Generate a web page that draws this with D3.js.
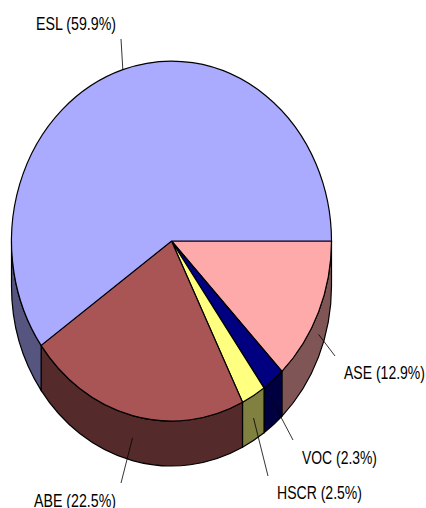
<!DOCTYPE html>
<html lang="en">
<head>
  <meta charset="UTF-8">
  <title>Pie chart</title>
  <script src="https://d3js.org/d3.v7.min.js"></script>
  <style>
    html, body { margin: 0; padding: 0; background: #fff; }
    svg { display: block; }
    text { font-family: "Liberation Sans Narrow", "Liberation Sans", Arial, sans-serif; font-size: 18px; fill: #000; }
  </style>
</head>
<body>
  <svg id="chart"></svg>
  <script>
    const categories = ["ASE", "VOC", "HSCR", "ABE", "ESL"];
    const shares = [12.9, 2.3, 2.5, 22.5, 59.9];

    const topColors = ["#ffaaaa", "#000080", "#ffff80", "#aa5555", "#aaaaff"];
    const sideColors = ["#805555", "#000040", "#808040", "#552a2a", "#555580"];

    // Where each leader line ends and its label sits: [lineX, lineY, textX, textY, textWidth]
    const labelPlaces = {
      ASE: [335, 356, 344, 379, 81],
      VOC: [293, 440, 302, 464, 75],
      HSCR: [268, 476, 277, 499, 85],
      ABE: [121, 483, 34, 507, 82],
      ESL: [121, 39, 36, 30, 80]
    };

    const width = 426, height = 508;
    const cx = 171.5, cy = 241, rx = 160, ry = 180, depth = 45;

    const svg = d3.select("#chart").attr("width", width).attr("height", height);

    // d3.pie angles: 0 is 12 o'clock, so start at 3 o'clock and go clockwise
    const slices = d3.pie().sort(null)
      .startAngle(Math.PI / 2)
      .endAngle(Math.PI / 2 + 2 * Math.PI)(shares);

    const px = a => cx + rx * Math.sin(a);
    const py = a => cy - ry * Math.cos(a);

    // Side walls, only the front half of the rim is visible
    const wallPath = d => {
      const a0 = Math.max(d.startAngle, Math.PI / 2);
      const a1 = Math.min(d.endAngle, 3 * Math.PI / 2);
      return `M${px(a0)},${py(a0)}A${rx},${ry} 0 0 1 ${px(a1)},${py(a1)}` +
             `L${px(a1)},${py(a1) + depth}A${rx},${ry} 0 0 0 ${px(a0)},${py(a0) + depth}Z`;
    };

    svg.append("g").selectAll("path")
      .data(slices)
      .enter().append("path")
      .attr("d", wallPath)
      .attr("fill", (d, i) => sideColors[i])
      .attr("stroke", "#000")
      .attr("stroke-width", 1.2);

    // Top face: unit arcs stretched into an ellipse
    const arc = d3.arc().innerRadius(0).outerRadius(1);
    svg.append("g")
      .attr("transform", `translate(${cx},${cy}) scale(${rx},${ry})`)
      .selectAll("path")
      .data(slices)
      .enter().append("path")
      .attr("d", arc)
      .attr("fill", (d, i) => topColors[i])
      .attr("stroke", "#000")
      .attr("stroke-width", 1.2)
      .attr("vector-effect", "non-scaling-stroke");

    // Leader lines start at each slice's mid angle, halfway down the wall on the front side
    const leaders = svg.append("g");
    slices.forEach((d, i) => {
      const name = categories[i];
      const place = labelPlaces[name];
      const mid = (d.startAngle + d.endAngle) / 2;
      const front = Math.cos(mid) < 0;
      leaders.append("line")
        .attr("x1", px(mid))
        .attr("y1", py(mid) + (front ? depth / 2 : 0))
        .attr("x2", place[0])
        .attr("y2", place[1])
        .attr("stroke", "#000")
        .attr("stroke-width", 0.8);
      leaders.append("text")
        .attr("x", place[2])
        .attr("y", place[3])
        .attr("textLength", place[4])
        .attr("lengthAdjust", "spacingAndGlyphs")
        .text(`${name} (${shares[i].toFixed(1)}%)`);
    });
  </script>
</body>
</html>
